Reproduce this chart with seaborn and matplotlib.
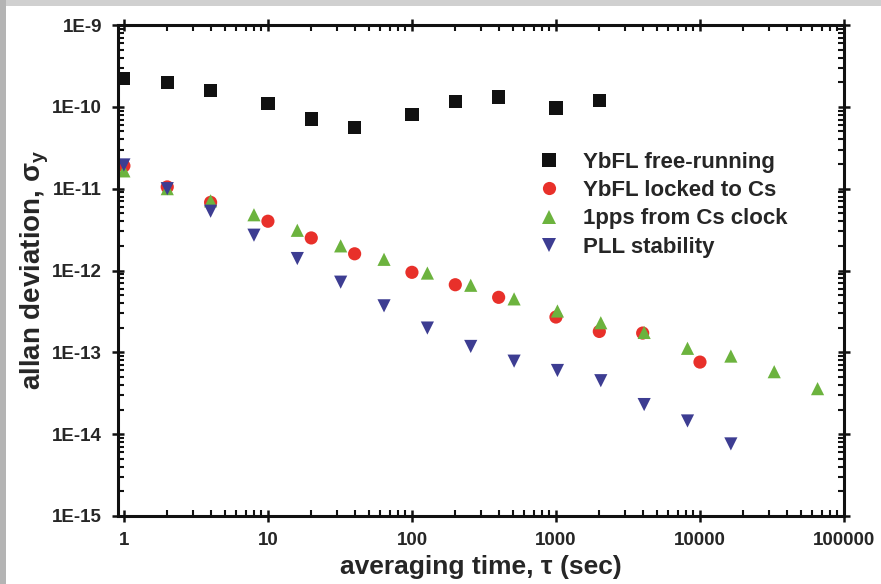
import numpy as np
import pandas as pd
import matplotlib
matplotlib.use("Agg")
import matplotlib.pyplot as plt
from matplotlib.patches import Rectangle
from matplotlib.ticker import FixedLocator, FixedFormatter, LogLocator, NullFormatter
import seaborn as sns

# ---- data ----
free_tau = [1, 2, 4, 10, 20, 40, 100, 200, 400, 1000, 2000]
free_adev = [2.2e-10, 2.0e-10, 1.6e-10, 1.1e-10, 7.1e-11, 5.6e-11, 8.0e-11, 1.15e-10, 1.32e-10, 9.7e-11, 1.2e-10]

locked_tau = [1, 2, 4, 10, 20, 40, 100, 200, 400, 1000, 2000, 4000, 10000]
locked_adev = [1.9e-11, 1.05e-11, 6.8e-12, 4.0e-12, 2.5e-12, 1.6e-12, 9.5e-13, 6.7e-13, 4.7e-13, 2.7e-13, 1.8e-13, 1.72e-13, 7.6e-14]

pps_tau = [1, 2, 4, 8, 16, 32, 64, 128, 256, 512, 1024, 2048, 4096, 8192, 16384, 32768, 65536]
pps_adev = [1.65e-11, 1.0e-11, 7.1e-12, 4.8e-12, 3.1e-12, 2.0e-12, 1.37e-12, 9.3e-13, 6.6e-13, 4.5e-13, 3.2e-13, 2.3e-13, 1.75e-13, 1.12e-13, 9.0e-14, 5.8e-14, 3.6e-14]

pll_tau = [1, 2, 4, 8, 16, 32, 64, 128, 256, 512, 1024, 2048, 4096, 8192, 16384]
pll_adev = [1.95e-11, 1.0e-11, 5.3e-12, 2.7e-12, 1.4e-12, 7.2e-13, 3.7e-13, 1.98e-13, 1.18e-13, 7.8e-14, 6.0e-14, 4.5e-14, 2.3e-14, 1.45e-14, 7.6e-15]

series_names = ["YbFL free-running", "YbFL locked to Cs", "1pps from Cs clock", "PLL stability"]
x_tick_values = [1, 10, 100, 1000, 10000, 100000]
x_tick_labels = ["1", "10", "100", "1000", "10000", "100000"]
y_tick_values = [1e-15, 1e-14, 1e-13, 1e-12, 1e-11, 1e-10, 1e-9]
y_tick_labels = ["1E-15", "1E-14", "1E-13", "1E-12", "1E-11", "1E-10", "1E-9"]

rows = []
for name, taus, adevs in zip(series_names,
                             [free_tau, locked_tau, pps_tau, pll_tau],
                             [free_adev, locked_adev, pps_adev, pll_adev]):
    for t, a in zip(taus, adevs):
        rows.append({"tau": t, "adev": a, "series": name})
df = pd.DataFrame(rows)

# ---- style ----
sns.set_theme(style="ticks")
plt.rcParams["font.family"] = ["Liberation Sans", "DejaVu Sans"]
plt.rcParams["font.weight"] = "bold"
plt.rcParams["mathtext.fontset"] = "custom"
plt.rcParams["mathtext.rm"] = "Liberation Sans:bold"
plt.rcParams["mathtext.it"] = "Liberation Sans:bold"
plt.rcParams["mathtext.bf"] = "Liberation Sans:bold"

palette = {"YbFL free-running": "#111111", "YbFL locked to Cs": "#e8302a",
           "1pps from Cs clock": "#6cb33e", "PLL stability": "#3d3d92"}
markers = {"YbFL free-running": "s", "YbFL locked to Cs": "o",
           "1pps from Cs clock": "^", "PLL stability": "v"}

W, H = 881, 584
fig = plt.figure(figsize=(W / 100, H / 100), dpi=100)
fig.patch.set_facecolor("white")
fig.add_artist(Rectangle((0, 1 - 6 / H), 1, 6 / H, transform=fig.transFigure,
                         facecolor="#d0d0d0", edgecolor="none", zorder=-10))
fig.add_artist(Rectangle((0, 0), 6 / W, 1, transform=fig.transFigure,
                         facecolor="#b4b4b4", edgecolor="none", zorder=-10))

left, right, top, bottom = 118, 844, 25, 516
ax = fig.add_axes([left / W, 1 - bottom / H, (right - left) / W, (bottom - top) / H])

sns.scatterplot(data=df, x="tau", y="adev", hue="series", style="series",
                hue_order=series_names, style_order=series_names,
                palette=palette, markers=markers, s=90, linewidth=0,
                edgecolor="none", ax=ax)

ax.set_xscale("log")
ax.set_yscale("log")
ax.set_xlim(0.91, 1e5)
ax.set_ylim(1e-15, 1e-9)

ax.xaxis.set_major_locator(FixedLocator(x_tick_values))
ax.xaxis.set_major_formatter(FixedFormatter(x_tick_labels))
ax.yaxis.set_major_locator(FixedLocator(y_tick_values))
ax.yaxis.set_major_formatter(FixedFormatter(y_tick_labels))
ax.xaxis.set_minor_locator(LogLocator(base=10, subs=np.arange(2, 10), numticks=50))
ax.yaxis.set_minor_locator(LogLocator(base=10, subs=np.arange(2, 10), numticks=50))
ax.xaxis.set_minor_formatter(NullFormatter())
ax.yaxis.set_minor_formatter(NullFormatter())

ax.tick_params(which="major", direction="inout", length=9, width=1.8,
               top=True, right=True, labelsize=13.5, color="#111111")
ax.tick_params(axis="x", which="major", pad=7)
ax.tick_params(axis="y", which="major", pad=7)
ax.tick_params(which="minor", direction="in", length=4, width=1.5,
               top=True, right=True, color="#111111")
for lab in ax.get_xticklabels() + ax.get_yticklabels():
    lab.set_fontweight("bold")
for sp in ax.spines.values():
    sp.set_linewidth(2.2)
    sp.set_color("#111111")

ax.set_xlabel("averaging time, \u03c4 (sec)", fontsize=19, fontweight="bold", labelpad=4)
ax.set_ylabel(r"allan deviation, $\sigma_{y}$", fontsize=20, fontweight="bold", labelpad=1)

sns.move_legend(ax, "upper left", bbox_to_anchor=(0.578, 0.742), title=None,
                frameon=False, fontsize=16, handlelength=1.0, handletextpad=1.05,
                labelspacing=0.33, borderaxespad=0, borderpad=0, markerscale=1.0)
for t in ax.get_legend().get_texts():
    t.set_fontweight("bold")

fig.savefig("out.png", dpi=100)
